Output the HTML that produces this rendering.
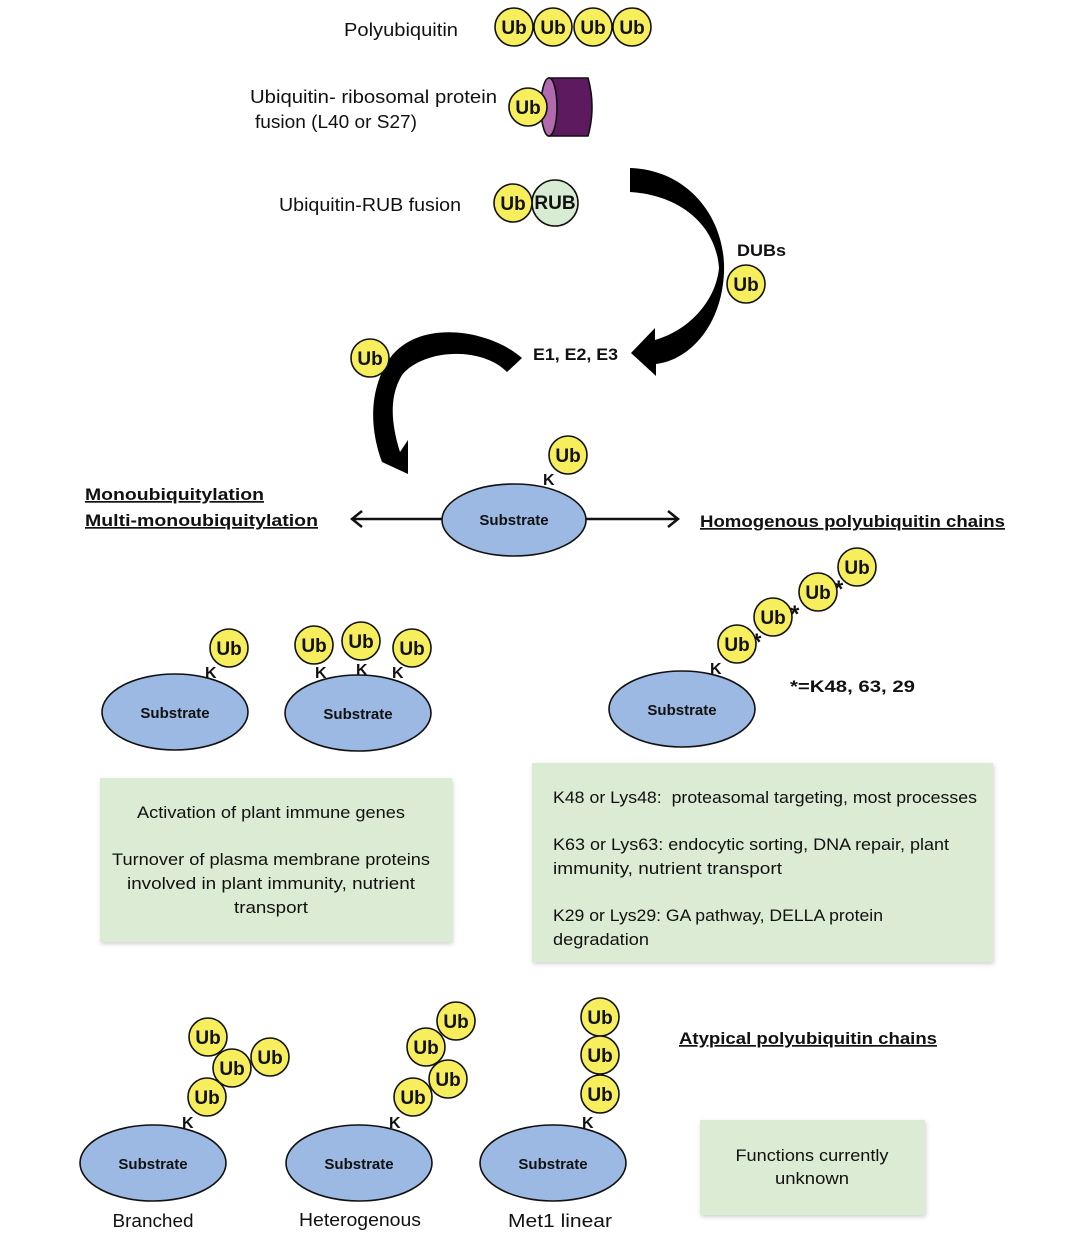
<!DOCTYPE html>
<html><head><meta charset="utf-8"><style>
html,body{margin:0;padding:0;background:#fff;}
svg{display:block;}
text{font-family:"Liberation Sans",sans-serif;fill:#111;}
.ub{fill:#f6ee5c;stroke:#111;stroke-width:1.6;}
.ubt{font-weight:bold;font-size:19px;text-anchor:middle;}
.sub{fill:#9bb9e2;stroke:#111;stroke-width:1.6;}
.subt{font-weight:bold;font-size:15px;text-anchor:middle;}
.k{font-weight:bold;font-size:16px;}
.lab{font-size:18px;}
.b{font-weight:bold;font-size:17px;}
.box{fill:#dcebd4;}
.bt{font-size:17px;}
.ast{font-weight:bold;font-size:24px;}
</style></head><body>
<svg width="1080" height="1252" viewBox="0 0 1080 1252" xmlns="http://www.w3.org/2000/svg">
<defs>
<g id="u"><circle r="19" class="ub"/><text y="7" class="ubt">Ub</text></g>
<filter id="sh" x="-5%" y="-5%" width="110%" height="115%"><feDropShadow dx="1" dy="2" stdDeviation="2" flood-color="#000" flood-opacity="0.18"/></filter>
</defs>

<!-- top -->
<text x="344" y="36" class="lab" textLength="114" lengthAdjust="spacingAndGlyphs">Polyubiquitin</text>
<use href="#u" x="514" y="27"/><use href="#u" x="553" y="27"/><use href="#u" x="593" y="27"/><use href="#u" x="632" y="27"/>

<text x="250" y="103" class="lab" textLength="247" lengthAdjust="spacingAndGlyphs">Ubiquitin- ribosomal protein</text>
<text x="255" y="128" class="lab" textLength="162" lengthAdjust="spacingAndGlyphs">fusion (L40 or S27)</text>
<path d="M549,78 L588,78 Q596,107 588,136 L549,136 Z" fill="#5e1a5e" stroke="#111" stroke-width="1.6"/>
<ellipse cx="549" cy="107" rx="8" ry="29" fill="#b06aad" stroke="#111" stroke-width="1.6"/>
<use href="#u" x="528" y="107"/>

<text x="279" y="211" class="lab" textLength="182" lengthAdjust="spacingAndGlyphs">Ubiquitin-RUB fusion</text>
<circle cx="555" cy="203" r="23" fill="#d8ecd4" stroke="#111" stroke-width="1.6"/>
<text x="555" y="209" class="ubt">RUB</text>
<use href="#u" x="513" y="203"/>

<!-- arrow 1 -->
<path d="M630,168 C690,170 726,220 724,272 C722,325 690,360 656,364 L656,376 L631,353 L655,328 L655,340 C690,330 716,300 719,268 C716,225 680,195 630,192 Z" fill="#000"/>
<text x="737" y="256" class="b" textLength="49" lengthAdjust="spacingAndGlyphs">DUBs</text>
<use href="#u" x="746" y="284"/>
<text x="533" y="360" class="b" textLength="85" lengthAdjust="spacingAndGlyphs">E1, E2, E3</text>

<!-- arrow 2 -->
<path d="M522,358 C490,330 420,318 390,358 C368,390 370,430 382,462 L408,474 L408,440 L400,452 C390,420 390,395 402,375 C422,350 480,345 507,372 Z" fill="#000"/>
<use href="#u" x="370" y="358"/>

<!-- central substrate -->
<line x1="352" y1="519" x2="442" y2="519" stroke="#111" stroke-width="2.5"/>
<polyline points="362,511 352,519 362,527" fill="none" stroke="#111" stroke-width="2.5"/>
<line x1="586" y1="519" x2="678" y2="519" stroke="#111" stroke-width="2.5"/>
<polyline points="668,511 678,519 668,527" fill="none" stroke="#111" stroke-width="2.5"/>
<ellipse cx="514" cy="520" rx="72" ry="36" class="sub"/>
<text x="514" y="525" class="subt">Substrate</text>
<text x="543" y="485" class="k">K</text>
<use href="#u" x="568" y="455"/>

<text x="85" y="500" class="b" text-decoration="underline" textLength="179" lengthAdjust="spacingAndGlyphs">Monoubiquitylation</text>
<text x="85" y="526" class="b" text-decoration="underline" textLength="233" lengthAdjust="spacingAndGlyphs">Multi-monoubiquitylation</text>
<text x="700" y="527" class="b" text-decoration="underline" textLength="305" lengthAdjust="spacingAndGlyphs">Homogenous polyubiquitin chains</text>

<!-- mono substrates -->
<ellipse cx="175" cy="712" rx="73" ry="38" class="sub"/>
<text x="175" y="718" class="subt">Substrate</text>
<text x="205" y="678" class="k">K</text>
<use href="#u" x="229" y="648"/>

<ellipse cx="358" cy="713" rx="73" ry="38" class="sub"/>
<text x="358" y="719" class="subt">Substrate</text>
<text x="315" y="678" class="k">K</text><text x="356" y="675" class="k">K</text><text x="392" y="678" class="k">K</text>
<use href="#u" x="314" y="645"/><use href="#u" x="361" y="641"/><use href="#u" x="412" y="648"/>

<!-- homogenous chain -->
<ellipse cx="682" cy="709" rx="73" ry="38" class="sub"/>
<text x="682" y="715" class="subt">Substrate</text>
<text x="710" y="674" class="k">K</text>
<text x="752" y="650" class="ast">*</text><text x="790" y="622" class="ast">*</text><text x="834" y="597" class="ast">*</text>
<use href="#u" x="737" y="644"/><use href="#u" x="773" y="617"/><use href="#u" x="818" y="592"/><use href="#u" x="857" y="567"/>
<text x="790" y="692" class="b" textLength="125" lengthAdjust="spacingAndGlyphs">*=K48, 63, 29</text>

<!-- green boxes -->
<rect x="100" y="778" width="352" height="164" class="box" filter="url(#sh)"/>
<text x="271" y="818" class="bt" text-anchor="middle" textLength="268" lengthAdjust="spacingAndGlyphs">Activation of plant immune genes</text>
<text x="271" y="865" class="bt" text-anchor="middle" textLength="318" lengthAdjust="spacingAndGlyphs">Turnover of plasma membrane proteins</text>
<text x="271" y="889" class="bt" text-anchor="middle" textLength="288" lengthAdjust="spacingAndGlyphs">involved in plant immunity, nutrient</text>
<text x="271" y="913" class="bt" text-anchor="middle" textLength="74" lengthAdjust="spacingAndGlyphs">transport</text>

<rect x="532" y="763" width="461" height="199" class="box" filter="url(#sh)"/>
<text x="553" y="803" class="bt" textLength="424" lengthAdjust="spacingAndGlyphs" xml:space="preserve">K48 or Lys48:  proteasomal targeting, most processes</text>
<text x="553" y="850" class="bt" textLength="396" lengthAdjust="spacingAndGlyphs">K63 or Lys63: endocytic sorting, DNA repair, plant</text>
<text x="553" y="874" class="bt" textLength="229" lengthAdjust="spacingAndGlyphs">immunity, nutrient transport</text>
<text x="553" y="921" class="bt" textLength="330" lengthAdjust="spacingAndGlyphs">K29 or Lys29: GA pathway, DELLA protein</text>
<text x="553" y="945" class="bt" textLength="96" lengthAdjust="spacingAndGlyphs">degradation</text>

<!-- atypical -->
<text x="679" y="1044" class="b" text-decoration="underline" textLength="258" lengthAdjust="spacingAndGlyphs">Atypical polyubiquitin chains</text>
<rect x="700" y="1120" width="225" height="95" class="box" filter="url(#sh)"/>
<text x="812" y="1161" class="bt" text-anchor="middle" textLength="153" lengthAdjust="spacingAndGlyphs">Functions currently</text>
<text x="812" y="1184" class="bt" text-anchor="middle" textLength="74" lengthAdjust="spacingAndGlyphs">unknown</text>

<ellipse cx="153" cy="1163" rx="73" ry="38" class="sub"/>
<text x="153" y="1169" class="subt">Substrate</text>
<text x="182" y="1128" class="k">K</text>
<use href="#u" x="208" y="1037"/><use href="#u" x="270" y="1057"/><use href="#u" x="232" y="1068"/><use href="#u" x="207" y="1097"/>
<text x="153" y="1227" class="lab" text-anchor="middle" textLength="81" lengthAdjust="spacingAndGlyphs">Branched</text>

<ellipse cx="359" cy="1163" rx="73" ry="38" class="sub"/>
<text x="359" y="1169" class="subt">Substrate</text>
<text x="389" y="1128" class="k">K</text>
<use href="#u" x="456" y="1021"/><use href="#u" x="426" y="1047"/><use href="#u" x="448" y="1079"/><use href="#u" x="413" y="1097"/>
<text x="360" y="1226" class="lab" text-anchor="middle" textLength="122" lengthAdjust="spacingAndGlyphs">Heterogenous</text>

<ellipse cx="553" cy="1163" rx="73" ry="38" class="sub"/>
<text x="553" y="1169" class="subt">Substrate</text>
<text x="582" y="1128" class="k">K</text>
<use href="#u" x="600" y="1017"/><use href="#u" x="600" y="1055"/><use href="#u" x="600" y="1094"/>
<text x="560" y="1227" class="lab" text-anchor="middle" textLength="104" lengthAdjust="spacingAndGlyphs">Met1 linear</text>
</svg>
</body></html>
